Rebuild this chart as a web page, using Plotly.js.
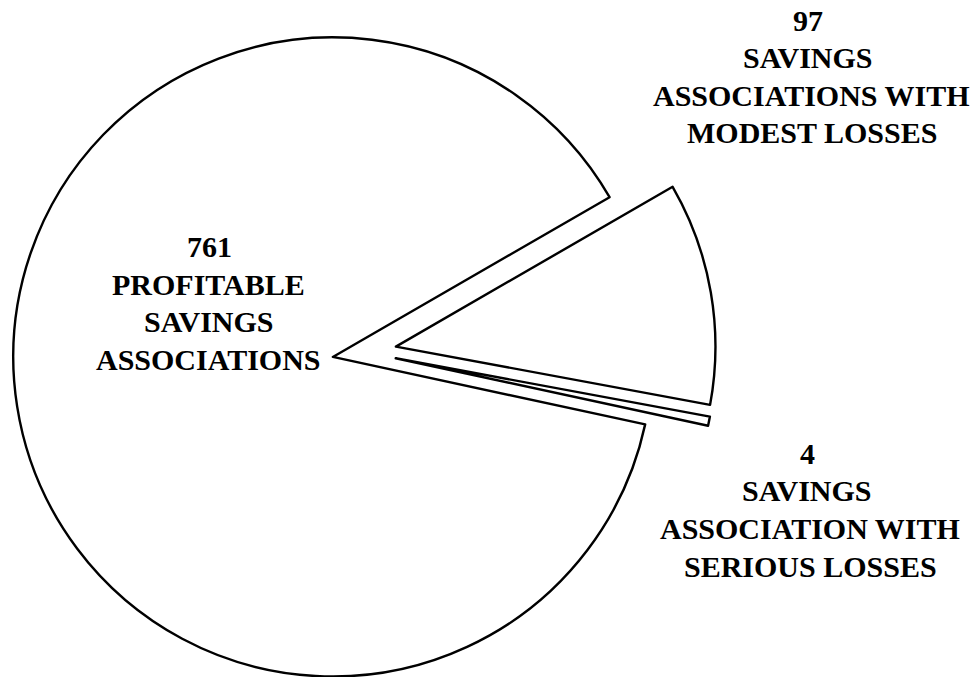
<!DOCTYPE html>
<html>
<head>
<meta charset="utf-8">
<script src="https://cdn.plot.ly/plotly-3.0.1.min.js"></script>
<style>
  html, body { margin: 0; padding: 0; overflow: hidden; background: #ffffff; width: 972px; height: 677px; }
  #chart { position: absolute; left: 0; top: 0; width: 972px; height: 704px; }
</style>
</head>
<body>
<div id="chart"></div>
<script>
// Data (slice order: clockwise starting at the modest-losses slice)
var categories = ['SAVINGS ASSOCIATIONS WITH MODEST LOSSES', 'SAVINGS ASSOCIATION WITH SERIOUS LOSSES', 'PROFITABLE SAVINGS ASSOCIATIONS'];
var counts = [97, 4, 761];
var labelLines = [
  ['SAVINGS', 'ASSOCIATIONS WITH', 'MODEST LOSSES'],
  ['SAVINGS', 'ASSOCIATION WITH', 'SERIOUS LOSSES'],
  ['PROFITABLE', 'SAVINGS', 'ASSOCIATIONS']
];

var W = 972, H = 704;
// per-line label positions in pixels: x centers and y of first line, line spacing
var labelX = [[807.5, 807.5, 811, 812], [807, 807, 810, 810], [209, 208.5, 208.5, 208.5]];
var labelY0 = [20, 453.5, 246.7];
var lineStep = 37.5;

var font = { family: 'Liberation Serif, Times New Roman, serif', size: 30, color: '#000000' };

var annotations = [];
categories.forEach(function (c, i) {
  var lines = [String(counts[i])].concat(labelLines[i]);
  lines.forEach(function (ln, j) {
    annotations.push({
      text: '<b>' + ln + '</b>',
      xref: 'paper', yref: 'paper',
      x: labelX[i][j] / W,
      y: 1 - (labelY0[i] + j * lineStep) / H,
      xanchor: 'center', yanchor: 'middle',
      showarrow: false,
      font: font
    });
  });
});

var trace = {
  type: 'pie',
  labels: categories,
  values: counts,
  sort: false,
  direction: 'clockwise',
  rotation: 60,
  pull: [0.1, 0.1, 0.1],
  textinfo: 'none',
  hoverinfo: 'none',
  marker: { colors: ['#ffffff', '#ffffff', '#ffffff'], line: { color: '#000000', width: 2.4 } },
  domain: { x: [12.9 / W, 715.9 / W], y: [0, 1] },
  showlegend: false
};

var layout = {
  width: W, height: H,
  margin: { l: 0, r: 0, t: 0, b: 0, pad: 0 },
  paper_bgcolor: '#ffffff',
  plot_bgcolor: '#ffffff',
  showlegend: false,
  annotations: annotations
};

Plotly.newPlot('chart', [trace], layout, { staticPlot: true, displayModeBar: false });
</script>
</body>
</html>
